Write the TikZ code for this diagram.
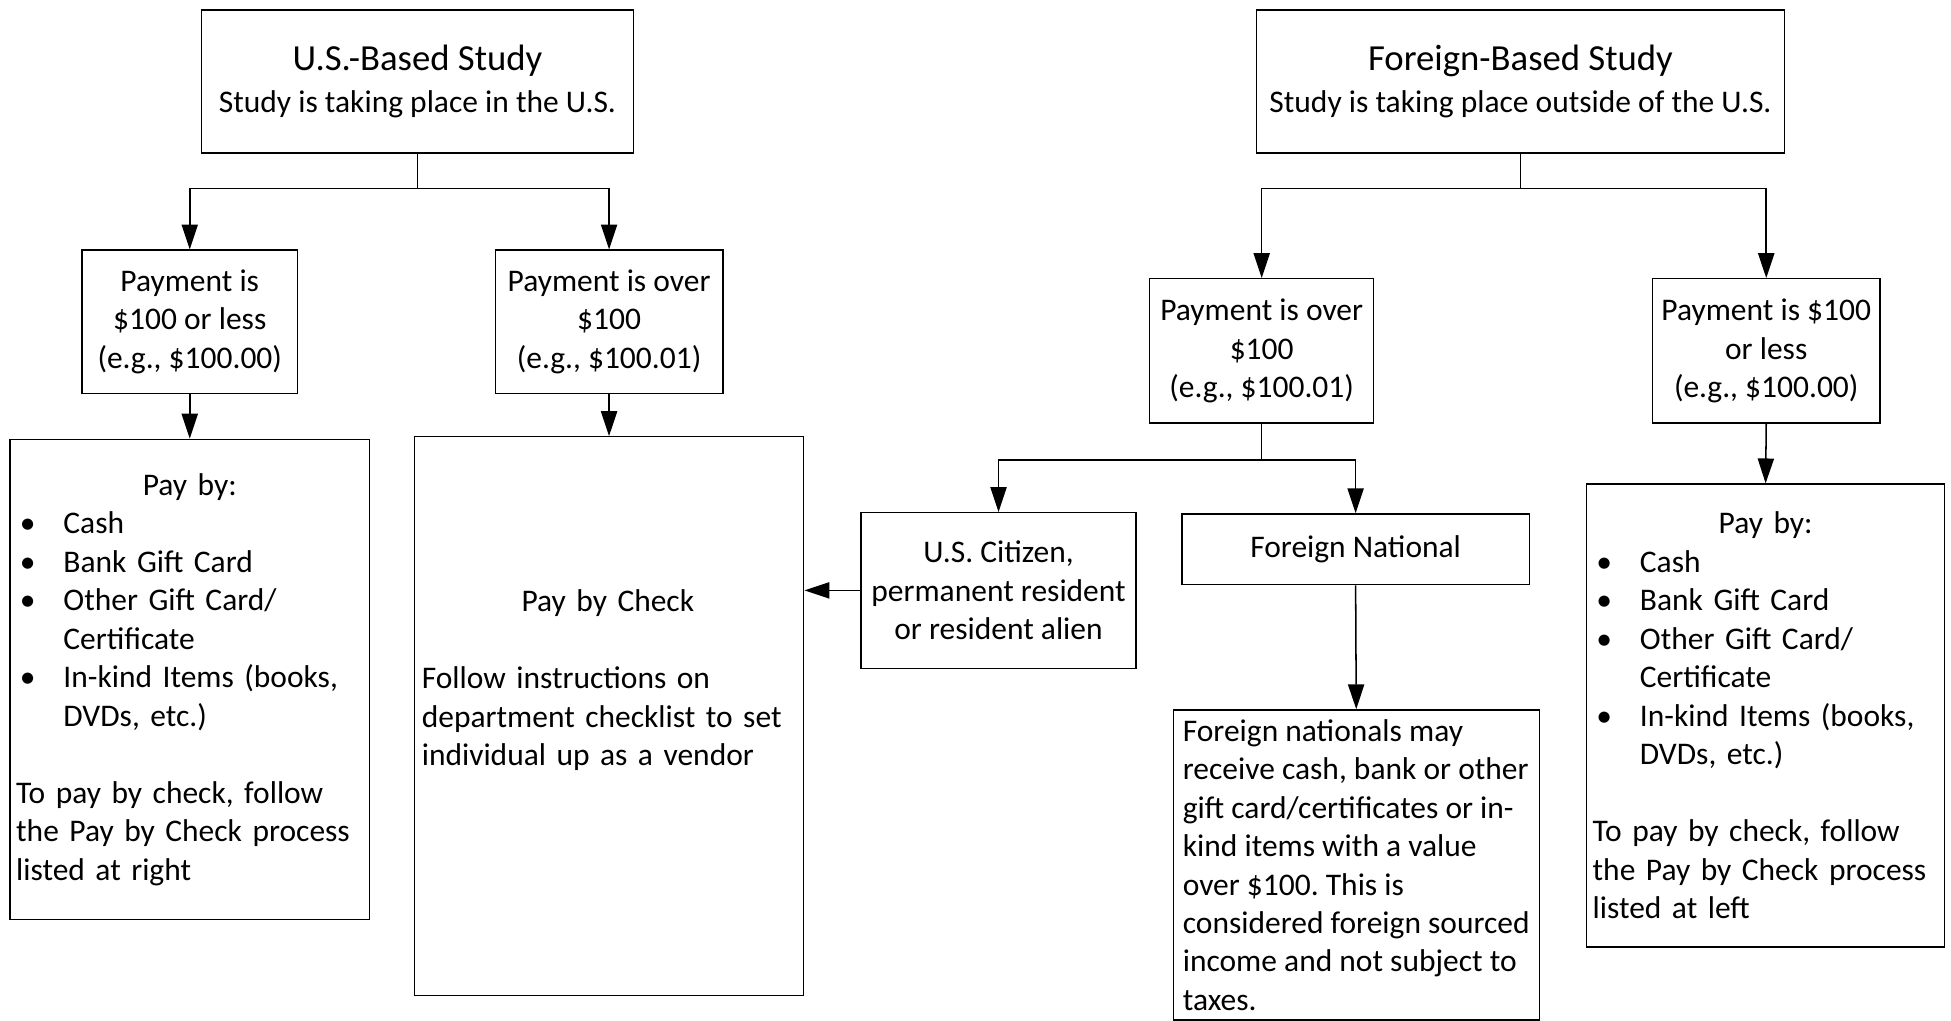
\documentclass[tikz,border=0pt]{standalone}
\usepackage{fontspec}
\setmainfont{Carlito}
\frenchspacing
\usetikzlibrary{arrows.meta}
\tikzset{
    Box/.style 2 args = {draw,line width=0.6pt,minimum width=#1*0.2mm,
         minimum height=#2*0.2mm,inner sep=1mm,align=center},
    List/.style = {align=left,text width=#1*0.2mm-2mm},
    Link/.style = {line width=0.7pt,-{Triangle[length=4mm,width=2.6mm]}}
}
\newcommand{\bitem}[1]{\makebox[7.6mm][l]{\hspace{0.6mm}\textbullet}#1}
\newcommand{\bcont}[1]{\hspace*{7.6mm}#1}
\newcommand{\titleline}[1]{{\fontsize{16.8}{20}\selectfont #1}}

\begin{document}
\begin{tikzpicture}[x=0.2mm,y=-0.2mm,font=\fontsize{14.4}{17.6}\selectfont]
        \useasboundingbox (0,0) rectangle (1568,820);
        % top level
        \node[Box={347}{115}] (usb) at (335.5,65.5)
            {\titleline{U.S.-Based Study}\\[1.7pt] Study is taking place in the U.S.};
        \node[Box={424}{115}] (fb) at (1222,65.5)
            {\titleline{Foreign-Based Study}\\[1.7pt] Study is taking place outside of the U.S.};
        % payment amounts
        \node[Box={173}{115}] (usless) at (152.5,258.5)
            {Payment is\\ \$100 or less\\ (e.g., \$100.00)};
        \node[Box={183}{115}] (usover) at (489.5,258.5)
            {Payment is over\\ \$100\\ (e.g., \$100.01)};
        \node[Box={180}{116}] (fover) at (1014,282)
            {Payment is over\\ \$100\\ (e.g., \$100.01)};
        \node[Box={183}{116}] (fless) at (1419.5,282)
            {Payment is \$100\\ or less\\ (e.g., \$100.00)};
        % residency
        \node[Box={221}{125}] (citizen) at (802.5,474.5)
            {U.S. Citizen,\\ permanent resident\\ or resident alien};
        \node[Box={279}{57}] (fnat) at (1089.5,441.5) {Foreign National};
        % how to pay
        \node[Box={289}{386},List=289] (uspay) at (152.5,546)
            {\makebox[55.8mm]{Pay by:}\\
             \bitem{Cash}\\
             \bitem{Bank Gift Card}\\
             \bitem{Other Gift Card/}\\
             \bcont{Certificate}\\
             \bitem{In-kind Items (books,}\\
             \bcont{DVDs, etc.)}\\[17.6pt]
             To pay by check, follow\\
             the Pay by Check process\\
             listed at right};
        \node[Box={311}{449},List=311,inner xsep=1.2mm] (check) at (489.5,575.5)
            {\makebox[59.8mm]{Pay by Check}\\[17.6pt]
             Follow instructions on\\
             department checklist to set\\
             individual up as a vendor\\[17.6pt]~};
        \node[Box={294}{10},align=left,inner ysep=1.5mm,anchor=north]
            (fnote) at (1090,570)
            {Foreign nationals may\\
             receive cash, bank or other\\
             gift card/certificates or in-\\
             kind items with a value\\
             over \$100. This is\\
             considered foreign sourced\\
             income and not subject to\\
             taxes.};
        \node[Box={288}{372},List=288] (fpay) at (1419,575)
            {\makebox[55.6mm]{Pay by:}\\
             \bitem{Cash}\\
             \bitem{Bank Gift Card}\\
             \bitem{Other Gift Card/}\\
             \bcont{Certificate}\\
             \bitem{In-kind Items (books,}\\
             \bcont{DVDs, etc.)}\\[17.6pt]
             To pay by check, follow\\
             the Pay by Check process\\
             listed at left};
        % connectors
        \foreach \T/\A/\B in {usb/usless/usover,fb/fover/fless}
            {\draw[Link] (\T.south) -- ++(0,28) -| (\A.north);
             \draw[Link] (\T.south) -- ++(0,28) -| (\B.north);}
        \draw[Link] (fover.south) -- ++(0,29) -| (citizen.north);
        \draw[Link] (fover.south) -- ++(0,29) -| (fnat.north);
        \draw[Link] (usless.south) -- (uspay.north);
        \draw[Link] (usover.south) -- (check.north);
        \draw[Link] (fless.south) -- (fpay.north);
        \draw[Link] (fnat.south) -- (fnote.north);
        \draw[Link] (citizen.west) -- (citizen.west -| check.east);
\end{tikzpicture}
\end{document}
